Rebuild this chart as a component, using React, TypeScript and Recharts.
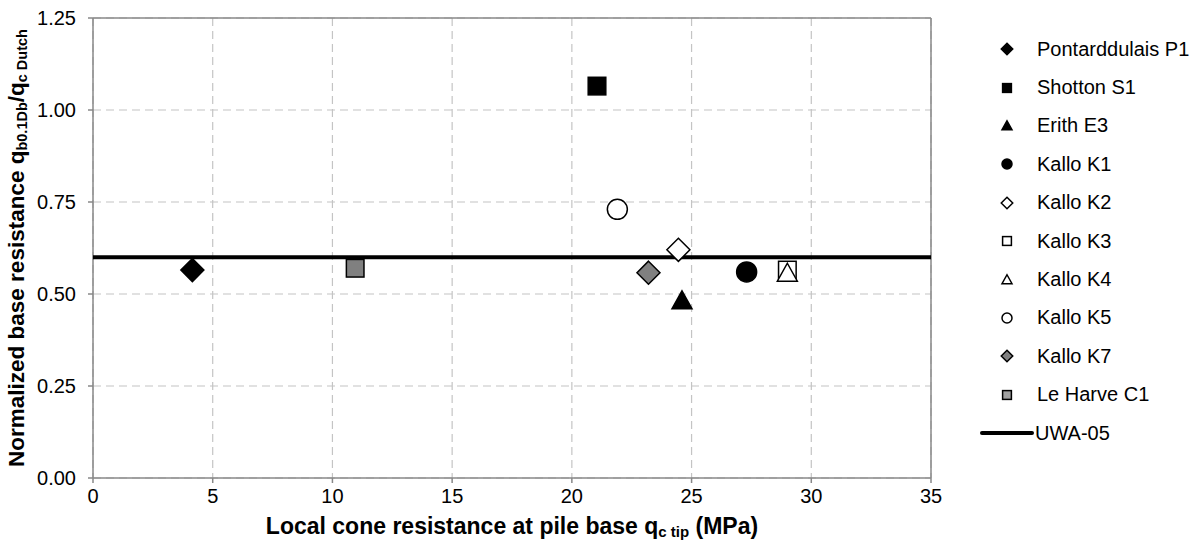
import React from "react";
import {
  ScatterChart,
  Scatter,
  XAxis,
  YAxis,
  CartesianGrid,
  ReferenceLine,
} from "recharts";

// test sites, one point each
const sites = [
  "Pontarddulais P1",
  "Shotton S1",
  "Erith E3",
  "Kallo K1",
  "Kallo K2",
  "Kallo K3",
  "Kallo K4",
  "Kallo K5",
  "Kallo K7",
  "Le Harve C1",
];
const qcTip = [4.15, 21.05, 24.6, 27.3, 24.45, 29.0, 29.0, 21.9, 23.2, 10.95];
const qbRatio = [0.565, 1.065, 0.48, 0.56, 0.62, 0.565, 0.555, 0.73, 0.558, 0.57];
const markerKinds = [
  "diamond",
  "square",
  "triangle",
  "circle",
  "diamond",
  "square",
  "triangle",
  "circle",
  "diamond",
  "square",
];
const markerFills = ["#000", "#000", "#000", "#000", "#fff", "#fff", "#fff", "#fff", "#808080", "#808080"];

// UWA-05 design line
const uwaName = "UWA-05";
const uwaX = [0, 35];
const uwaY = [0.6, 0.6];

const xTicks = [0, 5, 10, 15, 20, 25, 30, 35];
const yTicks = [0, 0.25, 0.5, 0.75, 1.0, 1.25];

const FONT = "'Liberation Sans', Arial, sans-serif";
const AXIS = "#888";

function drawMarker(kind: string, cx: number, cy: number, fill: string, s: number) {
  const stroke = "#000";
  const sw = 1.5;
  if (kind === "diamond") {
    const r = s * 1.15;
    return (
      <polygon
        points={`${cx},${cy - r} ${cx + r},${cy} ${cx},${cy + r} ${cx - r},${cy}`}
        fill={fill}
        stroke={stroke}
        strokeWidth={sw}
      />
    );
  }
  if (kind === "square") {
    const h = s * 0.88;
    return <rect x={cx - h} y={cy - h} width={h * 2} height={h * 2} fill={fill} stroke={stroke} strokeWidth={sw} />;
  }
  if (kind === "triangle") {
    const w = s;
    const top = cy - s * 1.05;
    const bot = cy + s * 0.75;
    return (
      <polygon
        points={`${cx},${top} ${cx + w},${bot} ${cx - w},${bot}`}
        fill={fill}
        stroke={stroke}
        strokeWidth={sw}
      />
    );
  }
  return <circle cx={cx} cy={cy} r={s} fill={fill} stroke={stroke} strokeWidth={sw} />;
}

const YTitle = () => (
  <text
    x={18}
    y={248}
    transform="rotate(-90 18 248)"
    textAnchor="middle"
    dominantBaseline="middle"
    fontFamily={FONT}
    fontWeight="bold"
    fontSize={22.5}
    fill="#000"
  >
    Normalized base resistance q
    <tspan fontSize={14.5} dy={5}>b0.1Db</tspan>
    <tspan dy={-5}>/q</tspan>
    <tspan fontSize={14.5} dy={5}>c Dutch</tspan>
  </text>
);

const XTitle = () => (
  <text
    x={512}
    y={528}
    textAnchor="middle"
    dominantBaseline="middle"
    fontFamily={FONT}
    fontWeight="bold"
    fontSize={23}
    fill="#000"
  >
    Local cone resistance at pile base q
    <tspan fontSize={15} dy={5}>c tip</tspan>
    <tspan dy={-5}> (MPa)</tspan>
  </text>
);

const LegendBox = () => (
  <div
    style={{
      position: "absolute",
      left: 980,
      top: 30,
      width: 220,
      fontFamily: FONT,
      fontSize: 20,
      color: "#000",
    }}
  >
    {sites.map((name, i) => (
      <div key={name} style={{ display: "flex", alignItems: "center", height: 38.4 }}>
        <svg width={54} height={20} style={{ display: "block" }}>
          {drawMarker(
            markerKinds[i],
            27,
            10,
            markerFills[i] === "#808080" && markerKinds[i] === "square" ? "#a0a0a0" : markerFills[i],
            5
          )}
        </svg>
        <span style={{ marginLeft: 3, whiteSpace: "nowrap" }}>{name}</span>
      </div>
    ))}
    <div style={{ display: "flex", alignItems: "center", height: 38.4 }}>
      <svg width={54} height={20} style={{ display: "block" }}>
        <line x1={2} y1={10} x2={52} y2={10} stroke="#000" strokeWidth={4} strokeLinecap="round" />
      </svg>
      <span style={{ marginLeft: 1 }}>{uwaName}</span>
    </div>
  </div>
);

export default function App() {
  const uwaData = uwaX.map((x, i) => ({ x, y: uwaY[i] }));
  return (
    <div style={{ position: "absolute", left: 0, top: 0, width: 1200, height: 547, background: "#fff" }}>
      <ScatterChart width={1200} height={547} margin={{ top: 18, right: 269, bottom: 0, left: 0 }}>
        <CartesianGrid stroke="#c4c4c4" strokeDasharray="8 5" strokeWidth={1.2} />
        <XAxis
          type="number"
          dataKey="x"
          domain={[0, 35]}
          ticks={xTicks}
          height={69}
          stroke={AXIS}
          strokeWidth={1.5}
          tickSize={5}
          tickMargin={6}
          tick={{ fill: "#000", fontFamily: FONT, fontSize: 20 }}
          allowDataOverflow
        />
        <YAxis
          type="number"
          dataKey="y"
          domain={[0, 1.25]}
          ticks={yTicks}
          width={93}
          stroke={AXIS}
          strokeWidth={1.5}
          tickSize={5}
          tickMargin={12}
          tickFormatter={(v: number) => v.toFixed(2)}
          tick={{ fill: "#000", fontFamily: FONT, fontSize: 20 }}
          allowDataOverflow
        />
        <ReferenceLine y={1.25} stroke={AXIS} strokeWidth={1.5} />
        <ReferenceLine x={35} stroke={AXIS} strokeWidth={1.5} />
        <Scatter
          name={uwaName}
          data={uwaData}
          line={{ stroke: "#000", strokeWidth: 4 }}
          shape={() => <g />}
          isAnimationActive={false}
        />
        {sites.map((name, i) => (
          <Scatter
            key={name}
            name={name}
            data={[{ x: qcTip[i], y: qbRatio[i] }]}
            isAnimationActive={false}
            shape={(p: any) => drawMarker(markerKinds[i], p.cx, p.cy, markerFills[i], 10)}
          />
        ))}
        <YTitle />
        <XTitle />
      </ScatterChart>
      <LegendBox />
    </div>
  );
}
